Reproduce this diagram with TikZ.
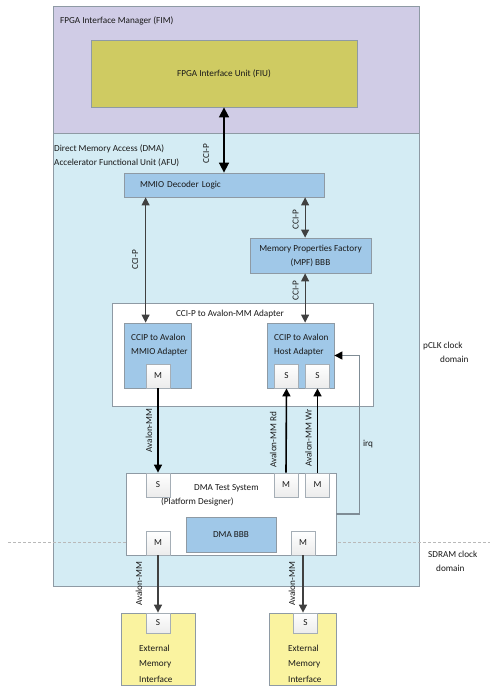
\documentclass[tikz,border=0pt]{standalone}
\usepackage{fontspec}
\setmainfont{Carlito}
\usetikzlibrary{positioning,arrows.meta}

\definecolor{fimfill}{HTML}{D0CCE6}
\definecolor{afufill}{HTML}{D4ECF4}
\definecolor{fiufill}{HTML}{CFCB62}
\definecolor{blockfill}{HTML}{A0C8E8}
\definecolor{emifill}{HTML}{FAF3A0}
\definecolor{edge}{HTML}{8E9AA4}
\definecolor{wire}{HTML}{404040}
\definecolor{irqwire}{HTML}{7F8C95}

\tikzset{
  every node/.style={font=\fontsize{9.2}{14}\selectfont, text=black!90},
  region/.style={draw=edge, line width=0.8pt, inner sep=0pt},
  block/.style={draw=edge, fill=blockfill, line width=0.8pt, inner sep=0pt},
  port/.style={draw=edge!80, top color=white, bottom color=gray!15, line width=0.8pt, minimum width=24pt, minimum height=24pt, inner sep=0pt},
  lbl/.style={inner sep=0pt, align=left},
  vlbl/.style={rotate=90, anchor=south},
  bus/.style={line width=1.6pt, -{Triangle[length=8pt,width=8pt]}},
  ccip/.style={wire, line width=1pt, {Triangle[length=8pt,width=8pt]}-{Triangle[length=8pt,width=8pt]}},
}

\begin{document}
\begin{tikzpicture}[x=1pt,y=-1pt]
\useasboundingbox (0,0) rectangle (495,686);
\node[region, fill=fimfill, minimum width=366pt, minimum height=127pt] (fim) at (236,69.5) {};
\node[region, fill=afufill, minimum width=366pt, minimum height=453pt] (afu) at (236,359.5) {};
\node[lbl, anchor=base west] (fimlbl) at (60,23) {FPGA Interface Manager (FIM)};
\node[lbl, anchor=base west] (afulbl) at (54,165) {Direct Memory Access (DMA)\\Accelerator Functional Unit (AFU)};
\node[lbl, anchor=base west] (pclk) at (423,362) {pCLK clock\\\hspace*{17pt}domain};
\node[lbl, anchor=base west] (sdram) at (428,571) {SDRAM clock\\\hspace*{8pt}domain};
\draw[gray!55, dash pattern=on 3pt off 2pt] (8,542) -- (490,542);

\node[block, fill=fiufill, minimum width=266pt, minimum height=67pt] (fiu) at (224,73.5) {FPGA Interface Unit (FIU)};
\node[block, minimum width=200pt, minimum height=24pt, text width=168pt, inner xsep=16pt] (mmio) at (224,185) {MMIO Decoder Logic};
\node[block, minimum width=121pt, minimum height=35pt, align=center] (mpf) at (310.5,255.5) {Memory Properties Factory\\(MPF) BBB};

\node[region, fill=white, minimum width=261pt, minimum height=103pt] (adp) at (242.5,354.5) {};
\node[lbl, anchor=base] (adplbl) at (230,316) {CCI-P to Avalon-MM Adapter};
\node[block, minimum width=67pt, minimum height=65pt] (mmioadp) at (157.5,355.5) {};
\node[lbl, anchor=base west] (mmioadplbl) at (131,354) {CCIP to Avalon\\MMIO Adapter};
\node[block, minimum width=67pt, minimum height=65pt] (hostadp) at (300.5,355.5) {};
\node[lbl, anchor=base west] (hostadplbl) at (274,354) {CCIP to Avalon\\Host Adapter};
\node[port] (mmiom) at (158,376) {M};
\node[port] (hosts1) at (286.5,376) {S};
\node[port] (hosts2) at (317.5,376) {S};

\node[region, fill=white, minimum width=210pt, minimum height=82pt] (dma) at (231,514) {};
\node[lbl, anchor=base west] (dmalbl) at (161,504) {\hspace*{33pt}DMA Test System\\(Platform Designer)};
\node[port] (dmas) at (158,485) {S};
\node[port] (dmam1) at (286,485) {M};
\node[port] (dmam2) at (317.5,485) {M};
\node[block, minimum width=90pt, minimum height=35pt] (dmabbb) at (231,534.5) {DMA BBB};
\node[port] (dmam3) at (158,543) {M};
\node[port] (dmam4) at (303,543) {M};

\node[region, fill=emifill, minimum width=74pt, minimum height=72pt] (emi1) at (158,649) {};
\node[region, fill=emifill, minimum width=67pt, minimum height=72pt] (emi2) at (302.5,649) {};
\node[port, minimum height=20pt] (emis1) at (158,623) {S};
\node[port, minimum height=20pt] (emis2) at (305.5,623) {S};
\node[lbl, anchor=base west, font=\fontsize{9.2}{15.5}\selectfont] (emi1lbl) at (139,682) {External\\Memory\\Interface};
\node[lbl, anchor=base west, font=\fontsize{9.2}{15.5}\selectfont] (emi2lbl) at (288,682) {External\\Memory\\Interface};

\draw[line width=1.6pt, {Triangle[length=10pt,width=10pt]}-{Triangle[length=10pt,width=10pt]}] (fiu.south) -- (mmio.north) node[vlbl, pos=.71, inner sep=14pt] (ccip1) {CCI-P};
\draw[ccip] (mmio.south -| mmiom.west) -- (mmioadp.north -| mmiom.west) node[vlbl, midway, inner sep=7pt] (ccip2) {CCI-P};
\draw[ccip] (mmio.south -| hosts2.west) -- (mpf.north -| hosts2.west) node[vlbl, pos=.56, inner sep=6pt] (ccip3) {CCI-P};
\draw[ccip] (mpf.south -| hosts2.west) -- (hostadp.north -| hosts2.west) node[vlbl, pos=.35, inner sep=6pt] (ccip4) {CCI-P};
\draw[bus] (mmiom.south) -- (dmas.north) node[vlbl, midway, inner sep=5pt] (avmm1) {Avalon-MM};
\draw[bus] (dmam1.north) -- (hosts1.south) node[vlbl, pos=.39, inner sep=9pt] (avrd) {Avalon-MM Rd};
\draw[bus] (dmam2.north) -- (hosts2.south) node[vlbl, pos=.41, inner sep=5pt] (avwr) {Avalon-MM Wr};
\draw[bus, wire] (dmam3.south) -- (emis1.north) node[vlbl, midway, inner sep=15pt] (avmm2) {Avalon-MM};
\draw[bus, wire] (dmam4.south) -- (dmam4.south |- emis2.north) node[vlbl, midway, inner sep=7pt] (avmm3) {Avalon-MM};
\draw[irqwire, line width=1.2pt, -{Triangle[length=8pt,width=8pt,color=black]}] (dma.east) -- ++(23,0) |- (hostadp.east) node[lbl, pos=.22, right=3pt] (irqlbl) {irq};
\end{tikzpicture}
\end{document}
